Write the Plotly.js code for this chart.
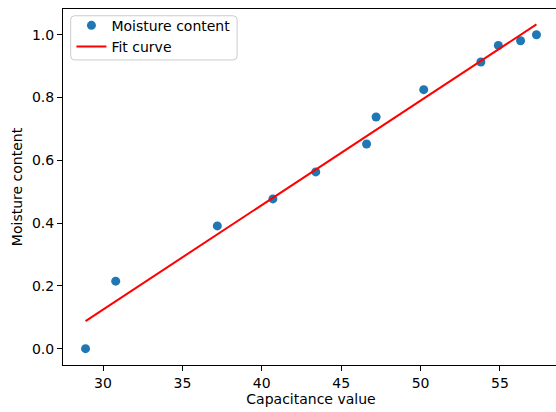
<!DOCTYPE html>
<html>
<head>
<meta charset="utf-8">
<script src="https://cdn.plot.ly/plotly-3.0.1.min.js"></script>
<style>
html, body { margin: 0; padding: 0; overflow: hidden; background: #fff; width: 556px; height: 412px; }
#chart { width: 580px; height: 412px; }
</style>
</head>
<body>
<div id="chart"></div>
<script>
// Data
const capacitance = [28.9, 30.8, 37.2, 40.7, 43.4, 46.6, 47.2, 50.2, 53.8, 54.9, 56.3, 57.3];
const moisture = [0.0, 0.215, 0.391, 0.477, 0.563, 0.652, 0.738, 0.825, 0.913, 0.966, 0.981, 1.0];
const fitX = [28.9, 57.3];
const fitY = [0.088, 1.033];

const font = { family: 'DejaVu Sans, sans-serif', size: 14, color: '#000' };

const traces = [
  {
    x: capacitance, y: moisture, type: 'scatter', mode: 'markers',
    name: 'Moisture content',
    marker: { color: '#1f77b4', size: 9 }
  },
  {
    x: fitX, y: fitY, type: 'scatter', mode: 'lines',
    name: 'Fit curve',
    line: { color: '#ff0000', width: 2 }
  }
];

const axisCommon = {
  showgrid: false, zeroline: false, showline: true, mirror: true,
  linecolor: '#000', linewidth: 1, ticks: 'outside', ticklen: 5,
  tickwidth: 1, tickcolor: '#000', tickfont: font, automargin: false
};

// legend frame (matplotlib-style box), in paper coordinates
const lx0 = 0.0155, lx1 = 0.351, ly0 = 0.857, ly1 = 0.981, rx = 0.008, ry = 0.011;
const legendFrame = 'M' + (lx0 + rx) + ',' + ly1 + ' L' + (lx1 - rx) + ',' + ly1 +
  ' Q' + lx1 + ',' + ly1 + ' ' + lx1 + ',' + (ly1 - ry) +
  ' L' + lx1 + ',' + (ly0 + ry) + ' Q' + lx1 + ',' + ly0 + ' ' + (lx1 - rx) + ',' + ly0 +
  ' L' + (lx0 + rx) + ',' + ly0 + ' Q' + lx0 + ',' + ly0 + ' ' + lx0 + ',' + (ly0 + ry) +
  ' L' + lx0 + ',' + (ly1 - ry) + ' Q' + lx0 + ',' + ly1 + ' ' + (lx0 + rx) + ',' + ly1 + ' Z';

const layout = {
  width: 580, height: 412,
  margin: { l: 63, r: 21, t: 9, b: 47 },
  paper_bgcolor: '#fff', plot_bgcolor: '#fff',
  font: font,
  showlegend: true,
  legend: {
    x: 0.017, y: 0.998, xanchor: 'left', yanchor: 'top',
    bgcolor: 'rgba(0,0,0,0)', borderwidth: 0,
    font: font, tracegroupgap: 0
  },
  shapes: [{
    type: 'path', xref: 'paper', yref: 'paper', path: legendFrame,
    line: { color: '#cccccc', width: 1 }, fillcolor: 'rgba(255,255,255,0.8)', layer: 'above'
  }],
  xaxis: Object.assign({}, axisCommon, {
    range: [27.48, 58.72], dtick: 5, tick0: 0,
    title: { text: 'Capacitance value', font: font, standoff: 3 }
  }),
  yaxis: Object.assign({}, axisCommon, {
    range: [-0.052, 1.082], dtick: 0.2, tick0: 0, tickformat: '.1f',
    title: { text: 'Moisture content', font: font, standoff: 6 }
  })
};

Plotly.newPlot('chart', traces, layout, { staticPlot: true, displayModeBar: false });
</script>
</body>
</html>
